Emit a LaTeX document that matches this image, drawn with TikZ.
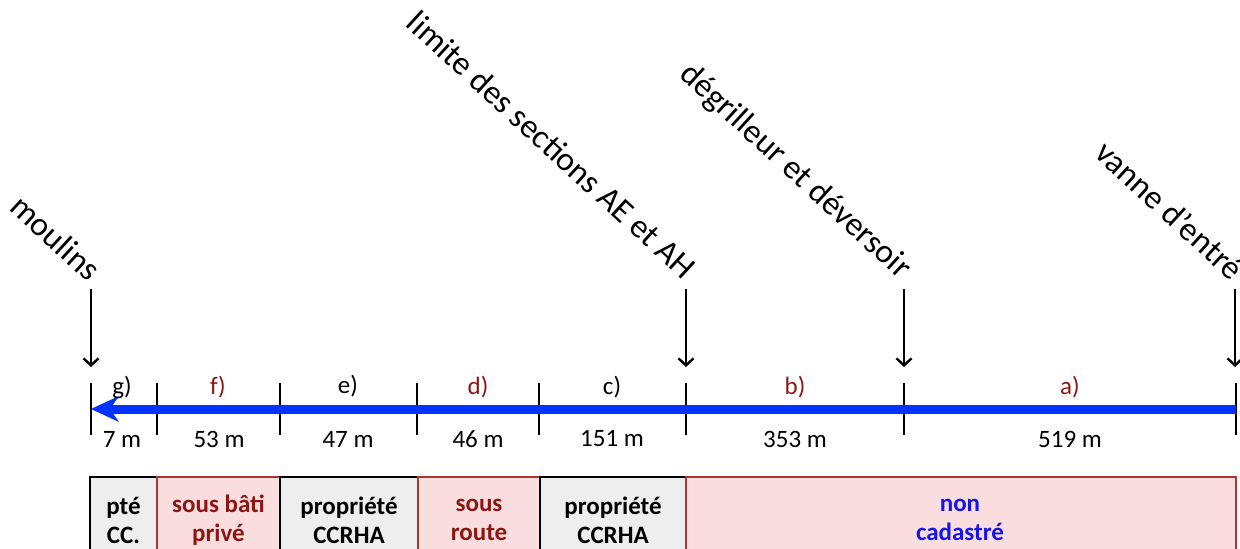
\documentclass[tikz,border=0pt]{standalone}
\usepackage{fontspec}
\setmainfont{Carlito}
\usetikzlibrary{arrows.meta}
\definecolor{dred}{RGB}{140,22,18}
\definecolor{pinkfill}{RGB}{250,221,223}
\definecolor{pinkdraw}{RGB}{170,55,45}
\definecolor{grayfill}{RGB}{238,238,238}
\definecolor{flowblue}{RGB}{4,51,255}
\definecolor{textblue}{RGB}{20,20,235}
\begin{document}
\begin{tikzpicture}[x=1pt,y=-1pt,
  lbl/.style={font=\fontsize{25}{30}\selectfont, inner sep=0pt, anchor=center},
  boxtxt/.style={font=\fontsize{25}{29}\selectfont\bfseries, inner sep=0pt, align=center},
  rotlbl/.style={font=\fontsize{33.5}{40}\selectfont, rotate=-42.5, anchor=base east, inner sep=0pt},
  tick/.style={line width=1.4pt},
  marker/.style={line width=1.5pt, -{Straight Barb[length=7pt,width=15pt,line width=2.4pt]}},
  graybox/.style={draw=black, line width=1.6pt, fill=grayfill},
  pinkbox/.style={draw=pinkdraw, line width=1.6pt, fill=pinkfill},
  flow/.style={draw=flowblue, line width=9pt, -{Stealth[length=28pt,width=26pt,inset=9pt,line width=0pt]}}
]
\useasboundingbox (0,0) rectangle (1240,549);
\begin{scope}
\clip (0,0) rectangle (1240,549);
% bottom boxes
\draw[graybox] (90,477) rectangle (157,600);
\draw[pinkbox] (157,477) rectangle (280,600);
\draw[graybox] (280,477) rectangle (418,600);
\draw[pinkbox] (418,477) rectangle (540,600);
\draw[graybox] (540,477) rectangle (686,600);
\draw[pinkbox] (686,477) rectangle (1236,600);
\end{scope}

\node[boxtxt] (bg) at (123.5,520) {pté\\CC.};
\node[boxtxt, text=dred] (bf) at (218.5,520) {sous bâti\\privé};
\node[boxtxt] (be) at (349,520) {propriété\\CCRHA};
\node[boxtxt, text=dred] (bd) at (479,520) {sous\\route};
\node[boxtxt] (bc) at (613,520) {propriété\\CCRHA};
\node[boxtxt, text=textblue] (ba) at (960,520) {non\\cadastré};

% ticks
\foreach \n/\x in {0/91,1/157,2/280,3/417,4/539,5/686,6/904,7/1236}{
  \coordinate (ta\n) at (\x,383);
  \coordinate (tb\n) at (\x,435);
  \draw[tick] (ta\n) -- (tb\n);
}

% flow arrow
\coordinate (fs) at (1236,409);
\coordinate (fe) at (91,409);
\draw[flow] (fs) -- (fe);

% segment letters
\node[lbl] (lg) at (122,387) {g)};
\node[lbl, text=dred] (lf) at (218,387) {f)};
\node[lbl] (le) at (348,386) {e)};
\node[lbl, text=dred] (ld) at (478,387) {d)};
\node[lbl] (lc) at (612,387) {c)};
\node[lbl, text=dred] (lb) at (795,387) {b)};
\node[lbl, text=dred] (la) at (1070,387) {a)};

% lengths
\node[lbl] (mg) at (122,439) {7 m};
\node[lbl] (mf) at (219,439) {53 m};
\node[lbl] (me) at (348,439) {47 m};
\node[lbl] (md) at (478,439) {46 m};
\node[lbl] (mc) at (612,439) {151 m};
\node[lbl] (mb) at (795,439) {353 m};
\node[lbl] (ma) at (1070,439) {519 m};

% markers
\foreach \n/\x in {1/91,2/686,3/904,4/1235}{
  \coordinate (as\n) at (\x,289);
  \coordinate (ae\n) at (\x,367);
  \draw[marker] (as\n) -- (ae\n);
}
\node[rotlbl] (r1) at (88,283) {moulins};
\node[rotlbl] (r2) at (683,281) {limite des sections AE et AH};
\node[rotlbl] (r3) at (900,280) {dégrilleur et déversoir};
\node[rotlbl] (r4) at (1231,282) {vanne d'entré};
\end{tikzpicture}
\end{document}
